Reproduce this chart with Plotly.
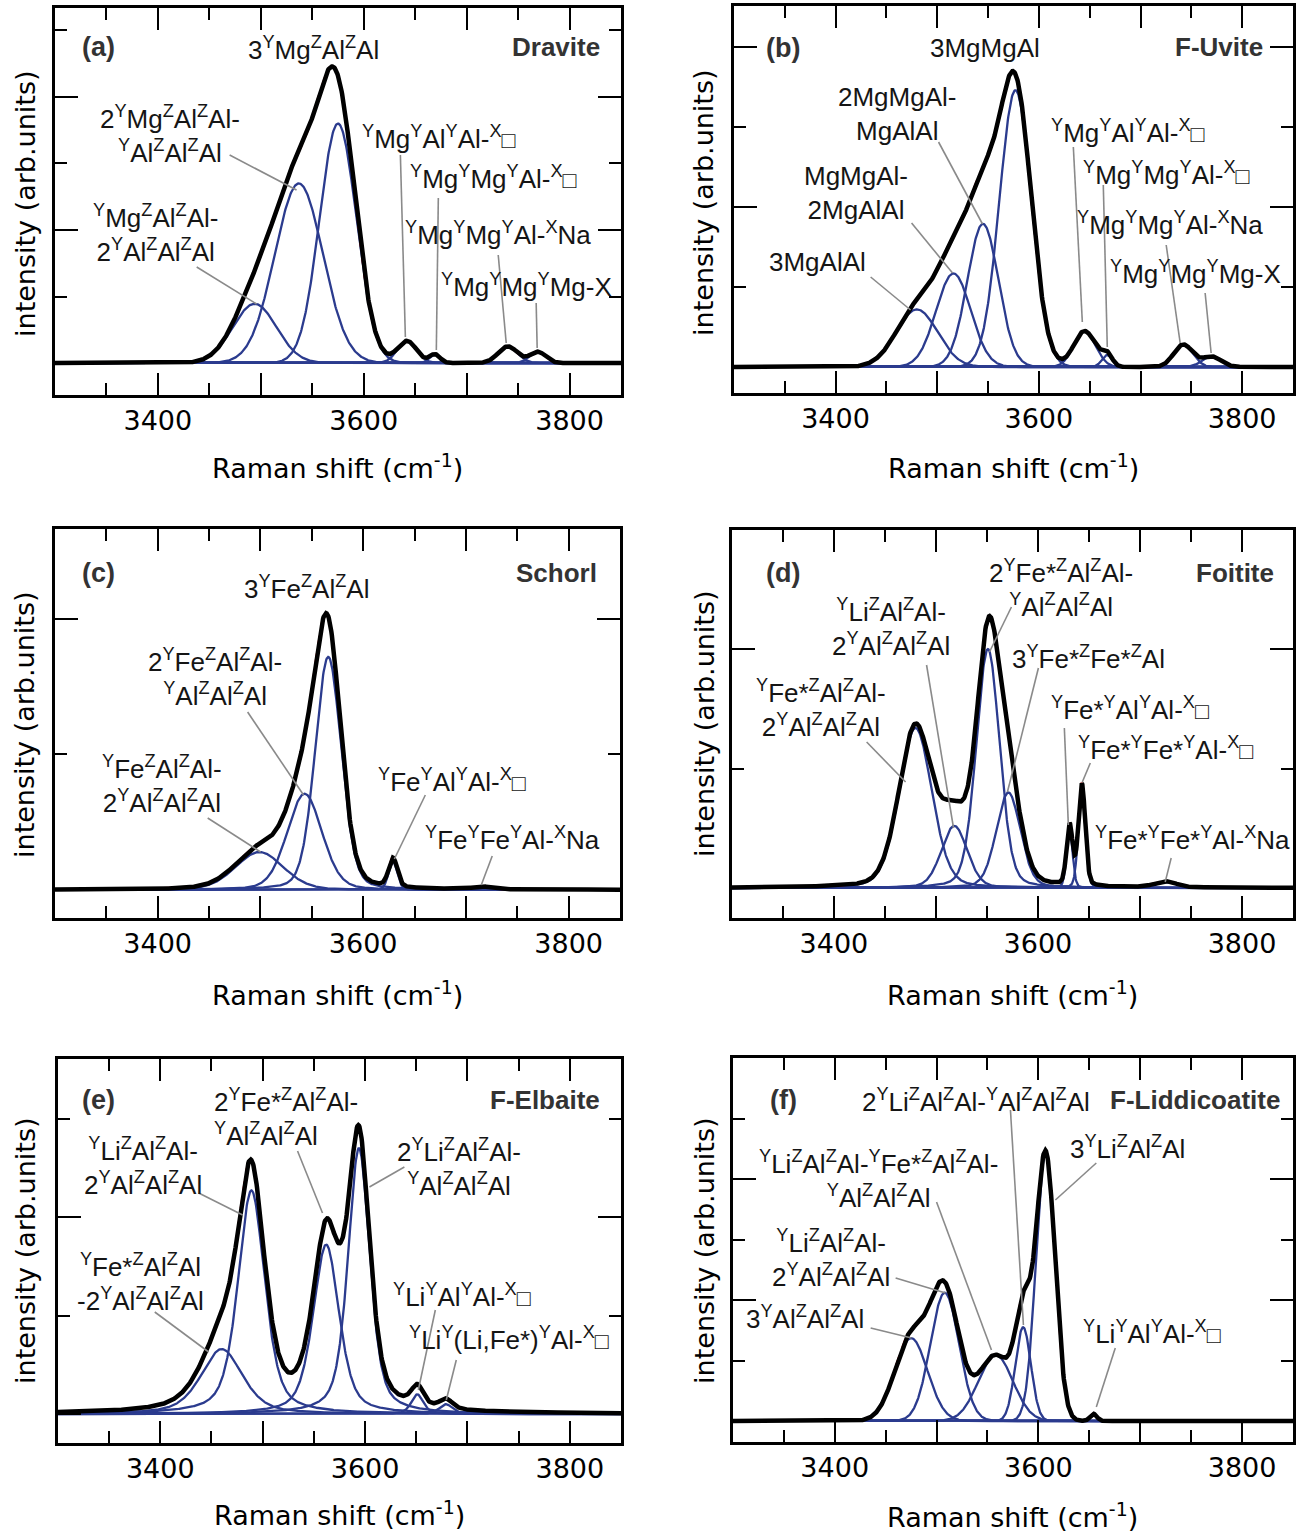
import numpy as np
import plotly.graph_objects as go

# ---------------- data ----------------
X_MIN, X_MAX = 3300, 3850
X_TICKS = [3300, 3400, 3500, 3600, 3700, 3800]
X_TICK_TEXT = ["", "3400", "", "3600", "", "3800"]

# fitted band parameters per panel: centre (cm-1), height (arb.), FWHM (cm-1)
A_CENTER = [3494, 3537, 3575, 3642, 3669, 3740, 3769]
A_HEIGHT = [0.89, 2.70, 3.60, 0.33, 0.13, 0.25, 0.17]
A_FWHM = [50, 55, 42, 22, 12, 22, 18]

B_CENTER = [3480, 3516, 3545, 3577, 3645, 3667, 3742, 3770]
B_HEIGHT = [0.72, 1.17, 1.79, 3.46, 0.45, 0.15, 0.28, 0.13]
B_FWHM = [48, 40, 36, 37, 25, 12, 22, 22]

C_CENTER = [3499, 3543, 3566, 3629, 3716]
C_HEIGHT = [0.28, 0.71, 1.72, 0.21, 0.02]
C_FWHM = [55, 40, 30, 10, 20]

D_CENTER = [3480, 3518, 3551, 3571, 3631, 3643, 3725]
D_HEIGHT = [1.34, 0.52, 2.00, 0.80, 0.50, 0.85, 0.05]
D_FWHM = [38, 30, 27, 28, 7, 8, 25]

E_CENTER = [3460, 3489, 3562, 3594, 3651, 3679]
E_HEIGHT = [0.66, 2.27, 1.72, 2.70, 0.20, 0.10]
E_FWHM = [48, 31, 30, 25, 14, 15]

F_CENTER = [3475, 3508, 3558, 3585, 3607, 3654]
F_HEIGHT = [1.37, 2.12, 1.09, 1.55, 4.43, 0.12]
F_FWHM = [38, 33, 40, 18, 22, 8]

# Lorentzian fraction of the pseudo-Voigt band shape per panel
SHAPE_ETA = {"a": 0.0, "b": 0.0, "c": 0.2, "d": 0.2, "e": 0.5, "f": 0.0}

NAMES = {"a": "Dravite", "b": "F-Uvite", "c": "Schorl", "d": "Foitite",
         "e": "F-Elbaite", "f": "F-Liddicoatite"}

BOX = "<span style='font-size:23px'>\u25a1</span>"

A_LABELS = [
    "3<sup>Y</sup>Mg<sup>Z</sup>Al<sup>Z</sup>Al",
    "2<sup>Y</sup>Mg<sup>Z</sup>Al<sup>Z</sup>Al-<br><sup>Y</sup>Al<sup>Z</sup>Al<sup>Z</sup>Al",
    "<sup>Y</sup>Mg<sup>Z</sup>Al<sup>Z</sup>Al-<br>2<sup>Y</sup>Al<sup>Z</sup>Al<sup>Z</sup>Al",
    "<sup>Y</sup>Mg<sup>Y</sup>Al<sup>Y</sup>Al-<sup>X</sup>" + BOX,
    "<sup>Y</sup>Mg<sup>Y</sup>Mg<sup>Y</sup>Al-<sup>X</sup>" + BOX,
    "<sup>Y</sup>Mg<sup>Y</sup>Mg<sup>Y</sup>Al-<sup>X</sup>Na",
    "<sup>Y</sup>Mg<sup>Y</sup>Mg<sup>Y</sup>Mg-X",
]
B_LABELS = [
    "3MgMgAl",
    "2MgMgAl-<br>MgAlAl",
    "MgMgAl-<br>2MgAlAl",
    "3MgAlAl",
    "<sup>Y</sup>Mg<sup>Y</sup>Al<sup>Y</sup>Al-<sup>X</sup>" + BOX,
    "<sup>Y</sup>Mg<sup>Y</sup>Mg<sup>Y</sup>Al-<sup>X</sup>" + BOX,
    "<sup>Y</sup>Mg<sup>Y</sup>Mg<sup>Y</sup>Al-<sup>X</sup>Na",
    "<sup>Y</sup>Mg<sup>Y</sup>Mg<sup>Y</sup>Mg-X",
]
C_LABELS = [
    "3<sup>Y</sup>Fe<sup>Z</sup>Al<sup>Z</sup>Al",
    "2<sup>Y</sup>Fe<sup>Z</sup>Al<sup>Z</sup>Al-<br><sup>Y</sup>Al<sup>Z</sup>Al<sup>Z</sup>Al",
    "<sup>Y</sup>Fe<sup>Z</sup>Al<sup>Z</sup>Al-<br>2<sup>Y</sup>Al<sup>Z</sup>Al<sup>Z</sup>Al",
    "<sup>Y</sup>Fe<sup>Y</sup>Al<sup>Y</sup>Al-<sup>X</sup>" + BOX,
    "<sup>Y</sup>Fe<sup>Y</sup>Fe<sup>Y</sup>Al-<sup>X</sup>Na",
]
D_LABELS = [
    "2<sup>Y</sup>Fe*<sup>Z</sup>Al<sup>Z</sup>Al-<br><sup>Y</sup>Al<sup>Z</sup>Al<sup>Z</sup>Al",
    "<sup>Y</sup>Li<sup>Z</sup>Al<sup>Z</sup>Al-<br>2<sup>Y</sup>Al<sup>Z</sup>Al<sup>Z</sup>Al",
    "<sup>Y</sup>Fe*<sup>Z</sup>Al<sup>Z</sup>Al-<br>2<sup>Y</sup>Al<sup>Z</sup>Al<sup>Z</sup>Al",
    "3<sup>Y</sup>Fe*<sup>Z</sup>Fe*<sup>Z</sup>Al",
    "<sup>Y</sup>Fe*<sup>Y</sup>Al<sup>Y</sup>Al-<sup>X</sup>" + BOX,
    "<sup>Y</sup>Fe*<sup>Y</sup>Fe*<sup>Y</sup>Al-<sup>X</sup>" + BOX,
    "<sup>Y</sup>Fe*<sup>Y</sup>Fe*<sup>Y</sup>Al-<sup>X</sup>Na",
]
E_LABELS = [
    "2<sup>Y</sup>Fe*<sup>Z</sup>Al<sup>Z</sup>Al-<br><sup>Y</sup>Al<sup>Z</sup>Al<sup>Z</sup>Al",
    "<sup>Y</sup>Li<sup>Z</sup>Al<sup>Z</sup>Al-<br>2<sup>Y</sup>Al<sup>Z</sup>Al<sup>Z</sup>Al",
    "<sup>Y</sup>Fe*<sup>Z</sup>Al<sup>Z</sup>Al<br>-2<sup>Y</sup>Al<sup>Z</sup>Al<sup>Z</sup>Al",
    "2<sup>Y</sup>Li<sup>Z</sup>Al<sup>Z</sup>Al-<br><sup>Y</sup>Al<sup>Z</sup>Al<sup>Z</sup>Al",
    "<sup>Y</sup>Li<sup>Y</sup>Al<sup>Y</sup>Al-<sup>X</sup>" + BOX,
    "<sup>Y</sup>Li<sup>Y</sup>(Li,Fe*)<sup>Y</sup>Al-<sup>X</sup>" + BOX,
]
F_LABELS = [
    "2<sup>Y</sup>Li<sup>Z</sup>Al<sup>Z</sup>Al-<sup>Y</sup>Al<sup>Z</sup>Al<sup>Z</sup>Al",
    "<sup>Y</sup>Li<sup>Z</sup>Al<sup>Z</sup>Al-<sup>Y</sup>Fe*<sup>Z</sup>Al<sup>Z</sup>Al-<br><sup>Y</sup>Al<sup>Z</sup>Al<sup>Z</sup>Al",
    "<sup>Y</sup>Li<sup>Z</sup>Al<sup>Z</sup>Al-<br>2<sup>Y</sup>Al<sup>Z</sup>Al<sup>Z</sup>Al",
    "3<sup>Y</sup>Al<sup>Z</sup>Al<sup>Z</sup>Al",
    "3<sup>Y</sup>Li<sup>Z</sup>Al<sup>Z</sup>Al",
    "<sup>Y</sup>Li<sup>Y</sup>Al<sup>Y</sup>Al-<sup>X</sup>" + BOX,
]

# ---------------- layout / style (pixel positions in the 1296x1532 page) ----------------
W, H = 1296, 1532
FONT_AX = "DejaVu Sans"
FONT_LB = "Liberation Sans"
BLUE = "#2b3b8e"
GREY = "#8a8a8a"

# plot box [left, right, top, bottom] px; y range (arb. units)
PANELS = {
    "a": dict(box=[55, 622, 8, 395], yr=[-0.481, 5.338]),
    "b": dict(box=[735, 1295, 6, 393], yr=[-0.325, 4.5125]),
    "c": dict(box=[55, 621, 529, 918], yr=[-0.207, 2.664]),
    "d": dict(box=[733, 1295, 530, 918], yr=[-0.251, 2.996]),
    "e": dict(box=[58, 622, 1059, 1443], yr=[-0.294, 3.604]),
    "f": dict(box=[734, 1295, 1058, 1442], yr=[-0.347, 6.0]),
}
BANDS = {
    "a": (A_CENTER, A_HEIGHT, A_FWHM), "b": (B_CENTER, B_HEIGHT, B_FWHM),
    "c": (C_CENTER, C_HEIGHT, C_FWHM), "d": (D_CENTER, D_HEIGHT, D_FWHM),
    "e": (E_CENTER, E_HEIGHT, E_FWHM), "f": (F_CENTER, F_HEIGHT, F_FWHM),
}
LABELS = {"a": A_LABELS, "b": B_LABELS, "c": C_LABELS,
          "d": D_LABELS, "e": E_LABELS, "f": F_LABELS}
# label anchor (x px, y px, xanchor)
LABEL_POS = {
    "a": [(314, 48, "center"), (170, 135, "center"), (156, 233, "center"),
          (440, 137, "center"), (494, 178, "center"), (499, 233, "center"),
          (527, 285, "center")],
    "b": [(987, 48, "center"), (898, 114, "center"), (857, 193, "center"),
          (819, 262, "center"), (1130, 132, "center"), (1168, 173, "center"),
          (1172, 223, "center"), (1197, 272, "center")],
    "c": [(307, 587, "center"), (215, 677, "center"), (162, 784, "center"),
          (453, 780, "center"), (513, 838, "center")],
    "d": [(1063, 588, "center"), (892, 628, "center"), (822, 708, "center"),
          (1090, 657, "center"), (1132, 708, "center"), (1167, 748, "center"),
          (1194, 838, "center")],
    "e": [(212, 1117, "left"), (143, 1166, "center"), (141, 1282, "center"),
          (460, 1167, "center"), (463, 1295, "center"), (510, 1338, "center")],
    "f": [(978, 1100, "center"), (880, 1179, "center"), (832, 1258, "center"),
          (806, 1317, "center"), (1129, 1147, "center"), (1154, 1332, "center")],
}
LEADERS = {
    "a": [(230, 155, 297, 190), (197, 267, 257, 304), (401, 155, 406, 337),
          (439, 198, 437, 350), (499, 255, 507, 343), (537, 303, 538, 348)],
    "b": [(940, 142, 984, 224), (913, 223, 954, 273), (872, 277, 912, 310),
          (1075, 147, 1084, 322), (1105, 185, 1109, 347), (1168, 245, 1182, 343),
          (1207, 293, 1213, 353)],
    "c": [(248, 712, 304, 795), (208, 818, 261, 852), (426, 795, 395, 859),
          (493, 856, 482, 885)],
    "d": [(1013, 607, 991, 652), (928, 665, 955, 828), (868, 742, 907, 782),
          (1040, 668, 1009, 792), (1066, 728, 1070, 825), (1092, 763, 1084, 782),
          (1173, 858, 1167, 882)],
    "e": [(298, 1151, 323, 1213), (199, 1193, 243, 1215), (155, 1312, 209, 1352),
          (405, 1167, 370, 1187), (436, 1310, 419, 1390), (457, 1360, 447, 1400)],
    "f": [(1012, 1110, 1025, 1325), (938, 1202, 993, 1350), (897, 1278, 947, 1293),
          (872, 1328, 913, 1338), (1098, 1163, 1057, 1200), (1117, 1348, 1098, 1407)],
}
TAG_POS = {"a": (99, 47, 557, 47), "b": (784, 48, 1221, 47), "c": (99, 573, 557, 573),
           "d": (784, 573, 1237, 573), "e": (99, 1100, 546, 1100), "f": (785, 1100, 1197, 1100)}
XTITLE_POS = {"a": (338, 467), "b": (1015, 467), "c": (338, 993), "d": (1014, 993),
              "e": (340, 1513), "f": (1014, 1515)}
YTITLE_POS = {"a": (25, 204), "b": (705, 203), "c": (25, 725), "d": (705, 724),
              "e": (25, 1251), "f": (705, 1251)}


def px(x):
    return x / W


def py(y):
    return 1 - y / H


def band(x, c, h, w, eta):
    g = np.exp(-4 * np.log(2) * ((x - c) / w) ** 2)
    lo = 1.0 / (1.0 + 4 * ((x - c) / w) ** 2)
    return h * (eta * lo + (1 - eta) * g)


xs = np.arange(X_MIN, X_MAX + 0.25, 0.5)
fig = go.Figure()
layout = dict(width=W, height=H, margin=dict(l=0, r=0, t=0, b=0),
              paper_bgcolor="white", plot_bgcolor="white", showlegend=False)
annotations, shapes = [], []

for i, key in enumerate(["a", "b", "c", "d", "e", "f"]):
    n = "" if i == 0 else str(i + 1)
    xa, ya = "x" + n, "y" + n
    p = PANELS[key]
    l, r, t, b = p["box"]
    layout["xaxis" + n] = dict(
        domain=[px(l), px(r)], anchor=ya, range=[X_MIN, X_MAX],
        showline=True, linewidth=2.5, linecolor="black", mirror="allticks",
        ticks="inside", ticklen=22, tickwidth=2, tickcolor="black",
        tickmode="array", tickvals=X_TICKS, ticktext=X_TICK_TEXT,
        tickfont=dict(family=FONT_AX, size=27, color="black"),
        minor=dict(dtick=50, tick0=3300, ticks="inside", ticklen=12, tickwidth=2,
                   tickcolor="black"),
        showgrid=False, zeroline=False)
    layout["yaxis" + n] = dict(
        domain=[py(b), py(t)], anchor=xa, range=p["yr"],
        showline=True, linewidth=2.5, linecolor="black", mirror="allticks",
        ticks="inside", ticklen=23, tickwidth=2, tickcolor="black",
        tick0=0, dtick=2, showticklabels=False,
        minor=dict(dtick=1, tick0=0, ticks="inside", ticklen=12, tickwidth=2,
                   tickcolor="black"),
        showgrid=False, zeroline=False)

    centers, heights, widths = BANDS[key]
    eta = SHAPE_ETA[key]
    total = np.zeros_like(xs)
    for c, h, w in zip(centers, heights, widths):
        comp = band(xs, c, h, w, eta)
        total += comp
        fig.add_trace(go.Scatter(x=xs, y=comp, mode="lines", xaxis=xa, yaxis=ya,
                                 line=dict(color=BLUE, width=2.3), hoverinfo="skip"))
    fig.add_trace(go.Scatter(x=xs, y=total, mode="lines", xaxis=xa, yaxis=ya,
                             line=dict(color="red", width=2.5, dash="dash"),
                             hoverinfo="skip"))
    fig.add_trace(go.Scatter(x=xs, y=total, mode="lines", xaxis=xa, yaxis=ya,
                             line=dict(color="black", width=4.5), hoverinfo="skip"))

    # peak labels
    for txt, (lx, ly, anc) in zip(LABELS[key], LABEL_POS[key]):
        annotations.append(dict(
            text=txt, x=px(lx), y=py(ly), xref="paper", yref="paper",
            xanchor=anc, yanchor="middle", align=anc,
            showarrow=False, font=dict(family=FONT_LB, size=26, color="#151515")))
    for (x0, y0, x1, y1) in LEADERS[key]:
        shapes.append(dict(type="line", xref="paper", yref="paper",
                           x0=px(x0), y0=py(y0), x1=px(x1), y1=py(y1),
                           line=dict(color=GREY, width=1.6)))
    tx, ty, nx, ny = TAG_POS[key]
    annotations.append(dict(text="<b>(%s)</b>" % key, x=px(tx), y=py(ty),
                            xref="paper", yref="paper", showarrow=False,
                            xanchor="center", yanchor="middle",
                            font=dict(family=FONT_LB, size=27, color="#333333")))
    annotations.append(dict(text="<b>%s</b>" % NAMES[key], x=px(nx), y=py(ny),
                            xref="paper", yref="paper", showarrow=False,
                            xanchor="center", yanchor="middle",
                            font=dict(family=FONT_LB, size=26, color="#333333")))
    gx, gy = XTITLE_POS[key]
    annotations.append(dict(text="Raman shift (cm<sup>-1</sup>)", x=px(gx), y=py(gy),
                            xref="paper", yref="paper", showarrow=False,
                            xanchor="center", yanchor="middle",
                            font=dict(family=FONT_AX, size=27, color="black")))
    vx, vy = YTITLE_POS[key]
    annotations.append(dict(text="intensity (arb.units)", x=px(vx), y=py(vy),
                            xref="paper", yref="paper", showarrow=False, textangle=-90,
                            xanchor="center", yanchor="middle",
                            font=dict(family=FONT_AX, size=27, color="black")))

layout["annotations"] = annotations
layout["shapes"] = shapes
fig.update_layout(**layout)
fig.write_html("out.html")
